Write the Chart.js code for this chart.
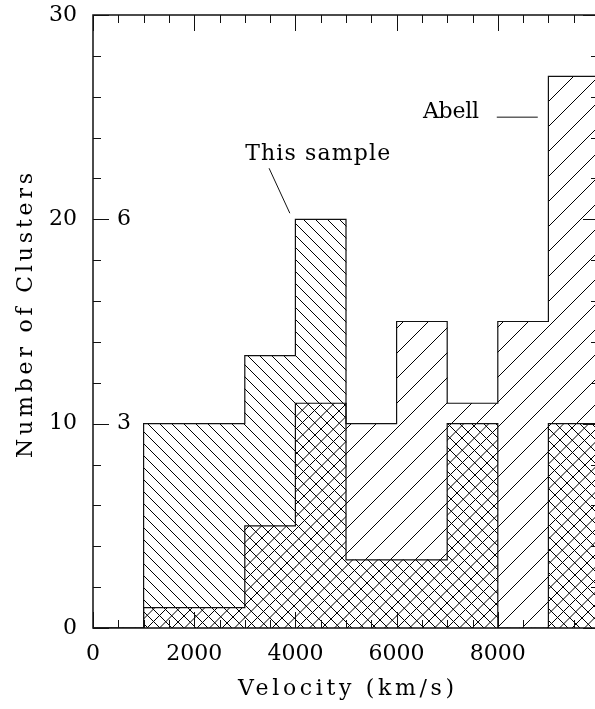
<!DOCTYPE html>
<html>
<head>
<meta charset="utf-8">
<script src="https://cdn.jsdelivr.net/npm/chart.js@4"></script>
<style>
  html, body { margin: 0; padding: 0; background: #fff; overflow: hidden; }
  #wrap { width: 620px; height: 709px; }
</style>
</head>
<body>
<div id="wrap"><canvas id="histo" width="620" height="709"></canvas></div>
<script>
// velocity bins (km/s)
const binEdges = [0, 1000, 2000, 3000, 4000, 5000, 6000, 7000, 8000, 9000, 10000]
// Abell clusters per bin, left scale
const abellCounts = [0, 1, 1, 5, 11, 10, 15, 11, 15, 27]
// this sample per bin, inner scale (3 sits at 10, 6 at 20)
const sampleCounts = [0, 3, 3, 4, 6, 1, 1, 3, 0, 3]

const xTickLabels = [0, 2000, 4000, 6000, 8000]
const yTickLabels = [0, 10, 20, 30]
const sampleTickLabels = [3, 6]

const FONT = 'DejaVu Serif'
const ink = '#111'

// text notes placed in data units
const notes = [
    { text: 'This sample', x: 4440, y: 22.88, width: 145, from: [3480, 22.5], to: [3890, 20.3] },
    { text: 'Abell', x: 7075, y: 24.96, width: 56, from: [7980, 25.0], to: [8790, 25.0] }
]

function hatch(size, up, bg, offsets) {
    const c = document.createElement('canvas')
    c.width = size
    c.height = size
    const g = c.getContext('2d')
    if (bg) {
        g.fillStyle = bg
        g.fillRect(0, 0, size, size)
    }
    g.strokeStyle = '#000'
    g.lineWidth = 1
    g.beginPath()
    for (const k of offsets) {
        const o = k * size
        if (up) {
            g.moveTo(o - 1, size + 1)
            g.lineTo(o + size + 1, -1)
        } else {
            g.moveTo(o - 1, -1)
            g.lineTo(o + size + 1, size + 1)
        }
    }
    g.stroke()
    return g.createPattern(c, 'repeat')
}

const abellHatch = hatch(25, true, '#fff', [-1, 0, 1])
const crossHatch = hatch(25, true, null, [-1, -0.5, 0, 0.5, 1])
const sampleHatch = hatch(12, false, null, [-1, 0, 1])

const centers = abellCounts.map((_, i) => (binEdges[i] + binEdges[i + 1]) / 2)
const toBars = vals => vals.map((v, i) => ({ x: centers[i], y: v }))
const toSteps = vals => binEdges.map((x, i) => ({ x: x, y: vals[Math.min(i, vals.length - 1)] }))

function spacedText(ctx, text, x, y, width, angle) {
    ctx.save()
    ctx.translate(x, y)
    ctx.rotate(angle || 0)
    ctx.letterSpacing = '0px'
    const w = ctx.measureText(text).width
    const ls = (width - w) / (text.length - 1)
    ctx.letterSpacing = ls + 'px'
    ctx.textAlign = 'center'
    ctx.textBaseline = 'alphabetic'
    ctx.fillText(text, ls / 2, 0)
    ctx.restore()
}

// the axes keep no extra room for half labels
function noPad(s) {
    s.paddingTop = 0
    s.paddingBottom = 0
    s.paddingLeft = 0
    s.paddingRight = 0
}

const framePlugin = {
    id: 'frame',
    beforeDatasetDraw(chart, args) {
        if (args.index === 1) chart.ctx.globalCompositeOperation = 'source-atop'
    },
    afterDatasetDraw(chart, args) {
        if (args.index === 1) chart.ctx.globalCompositeOperation = 'source-over'
    },
    afterDraw(chart) {
        const { ctx, chartArea: a } = chart
        const x = chart.scales.x
        const y = chart.scales.y
        ctx.save()
        ctx.strokeStyle = ink
        ctx.lineWidth = 1.5
        ctx.strokeRect(a.left, a.top, a.right - a.left, a.bottom - a.top)

        ctx.lineWidth = 1
        ctx.beginPath()
        for (let v = 0; v <= 10000; v += 500) {
            const px = Math.round(x.getPixelForValue(v)) + 0.5
            const len = v % 2000 === 0 ? 16 : 8
            ctx.moveTo(px, a.bottom)
            ctx.lineTo(px, a.bottom - len)
            ctx.moveTo(px, a.top)
            ctx.lineTo(px, a.top + len)
        }
        for (let v = 0; v <= 30; v += 2) {
            const py = Math.round(y.getPixelForValue(v)) + 0.5
            const len = v % 10 === 0 ? 16 : 8
            ctx.moveTo(a.left, py)
            ctx.lineTo(a.left + len, py)
            ctx.moveTo(a.right, py)
            ctx.lineTo(a.right - len, py)
        }
        ctx.stroke()

        ctx.fillStyle = '#000'
        ctx.font = '22px "' + FONT + '"'
        spacedText(ctx, 'Velocity (km/s)', (a.left + a.right) / 2, a.bottom + 67, 216)
        spacedText(ctx, 'Number of Clusters', 32, (a.top + a.bottom) / 2 - 6, 285, -Math.PI / 2)

        for (const n of notes) {
            spacedText(ctx, n.text, x.getPixelForValue(n.x), y.getPixelForValue(n.y), n.width)
            ctx.beginPath()
            ctx.moveTo(x.getPixelForValue(n.from[0]), y.getPixelForValue(n.from[1]))
            ctx.lineTo(x.getPixelForValue(n.to[0]), y.getPixelForValue(n.to[1]))
            ctx.stroke()
        }
        ctx.restore()
    }
}

const barStyle = { type: 'bar', borderWidth: 0, barPercentage: 1, categoryPercentage: 1, grouped: false }
const stepStyle = { type: 'line', stepped: true, fill: false, pointRadius: 0, borderColor: ink, borderWidth: 1.2 }

const tickFont = { family: FONT, size: 22 }

new Chart(document.getElementById('histo'), {
    type: 'bar',
    data: {
        datasets: [
            { ...barStyle, label: 'Abell', data: toBars(abellCounts), yAxisID: 'y', backgroundColor: abellHatch, order: 5 },
            { ...barStyle, label: 'overlap', data: toBars(sampleCounts), yAxisID: 'ys', backgroundColor: crossHatch, order: 4 },
            { ...barStyle, label: 'This sample', data: toBars(sampleCounts), yAxisID: 'ys', backgroundColor: sampleHatch, order: 3 },
            { ...stepStyle, label: 'Abell outline', data: toSteps(abellCounts), yAxisID: 'y', order: 2 },
            { ...stepStyle, label: 'sample outline', data: toSteps(sampleCounts), yAxisID: 'ys', order: 1 }
        ]
    },
    options: {
        responsive: false,
        animation: false,
        layout: { padding: { left: 0, top: 15, right: 21, bottom: 0 } },
        plugins: {
            legend: { display: false },
            tooltip: { enabled: false }
        },
        scales: {
            x: {
                type: 'linear',
                min: 0,
                max: 10000,
                offset: false,
                grid: { display: false, drawTicks: false },
                border: { display: false },
                ticks: {
                    stepSize: 2000,
                    padding: 13,
                    maxRotation: 0,
                    autoSkip: false,
                    color: '#000',
                    font: tickFont,
                    callback: v => xTickLabels.includes(v) ? String(v) : ''
                },
                afterFit: s => { s.height = 81; noPad(s) }
            },
            y: {
                type: 'linear',
                position: 'left',
                weight: 10,
                min: 0,
                max: 30,
                grid: { display: false, drawTicks: false },
                border: { display: false },
                ticks: {
                    stepSize: 10,
                    padding: 16,
                    color: '#000',
                    font: tickFont,
                    callback: v => yTickLabels.includes(v) ? String(v) : ''
                },
                afterFit: s => { s.width = 93; noPad(s) }
            },
            ys: {
                type: 'linear',
                position: 'left',
                weight: 0,
                min: 0,
                max: 9,
                grid: { display: false, drawTicks: false },
                border: { display: false },
                ticks: {
                    stepSize: 3,
                    mirror: true,
                    padding: 24,
                    color: '#000',
                    font: tickFont,
                    callback: v => sampleTickLabels.includes(v) ? String(v) : ''
                },
                afterFit: s => { s.width = 0; noPad(s) }
            }
        }
    },
    plugins: [framePlugin]
})
</script>
</body>
</html>
